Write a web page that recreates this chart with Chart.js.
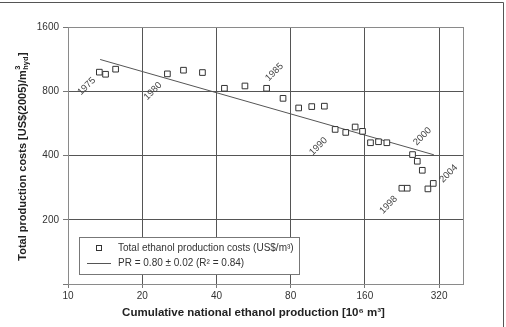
<!DOCTYPE html>
<html>
<head>
<meta charset="utf-8">
<script src="https://cdn.jsdelivr.net/npm/chart.js@4"></script>
<style>
    html, body { margin: 0; padding: 0; background: #fff; }
    #wrap { width: 506px; height: 327px; position: relative; }
</style>
</head>
<body>
<div id="wrap"><canvas id="learningChart" width="506" height="327"></canvas></div>
<script>
// cumulative production (10^6 m3) and cost (US$/m3)
const cumulativeProduction = [13.4, 14.2, 15.6, 25.3, 29.4, 35.1, 43.1, 52.2, 63.9, 74.5,
    86.2, 97.4, 109.6, 121.2, 133.8, 146.1, 156.5, 168.6, 181.7, 196.4,
    226, 237.6, 249.7, 261, 273.5, 288.2, 303];
const productionCost = [983, 961, 1015, 965, 1004, 979, 826, 847, 826, 741,
    668, 678, 681, 530, 513, 544, 519, 459, 464, 459,
    281, 281, 404, 376, 341, 279, 296];

// fitted experience curve end points
const fitX = [13.5, 304.7];
const fitY = [1127, 403];

const xTickValues = [10, 20, 40, 80, 160, 320];
const yTickValues = [100, 200, 400, 800, 1600];

// year annotations
const yearLabels = ['1975', '1980', '1985', '1990', '2000', '1998', '2004'];
const yearLabelX = [11.9, 22.1, 68.7, 103.7, 274, 199.5, 350];
const yearLabelY = [844, 800, 983, 441, 491, 235, 329];

const seriesLabel = 'Total ethanol production costs (US$/m³)';
const fitLabel = 'PR = 0.80 ± 0.02 (R² = 0.84)';

document.addEventListener('DOMContentLoaded', function () {
    const ctx = document.getElementById('learningChart').getContext('2d');
    const fontFamily = '"Liberation Sans", Arial, sans-serif';

    const framePlugin = {
        id: 'frame',
        beforeDraw(chart) {
            const c = chart.ctx;
            c.save();
            c.strokeStyle = '#555';
            c.lineWidth = 1;
            c.beginPath();
            c.moveTo(0, 2.5);
            c.lineTo(503.5, 2.5);
            c.lineTo(503.5, chart.height);
            c.stroke();
            c.restore();
        },
        afterDatasetsDraw(chart) {
            const c = chart.ctx;
            const a = chart.chartArea;
            const xs = chart.scales.x;
            const ys = chart.scales.y;
            c.save();
            // plot frame
            c.strokeStyle = '#8a8a8a';
            c.lineWidth = 1;
            c.strokeRect(Math.round(a.left) + 0.5, Math.round(a.top) + 0.5,
                Math.round(a.right - a.left), Math.round(a.bottom - a.top));

            // year labels
            c.fillStyle = '#444';
            c.font = '9.5px ' + fontFamily;
            c.textAlign = 'center';
            c.textBaseline = 'middle';
            yearLabels.forEach((txt, i) => {
                c.save();
                c.translate(xs.getPixelForValue(yearLabelX[i]), ys.getPixelForValue(yearLabelY[i]));
                c.rotate(-Math.PI / 4);
                c.fillText(txt, 0, 0);
                c.restore();
            });

            // legend box
            const lx = a.left + 11;
            const ly = a.bottom - 47;
            c.fillStyle = '#fff';
            c.fillRect(lx, ly, 220, 37);
            c.strokeStyle = '#777';
            c.strokeRect(Math.round(lx) + 0.5, Math.round(ly) + 0.5, 220, 37);

            c.strokeStyle = '#333';
            c.strokeRect(Math.round(lx + 17) + 0.5, Math.round(ly + 8) + 0.5, 5, 5);
            c.strokeStyle = '#555';
            c.beginPath();
            c.moveTo(lx + 8, Math.round(ly + 26) + 0.5);
            c.lineTo(lx + 32, Math.round(ly + 26) + 0.5);
            c.stroke();

            c.fillStyle = '#333';
            c.font = '10px ' + fontFamily;
            c.textAlign = 'left';
            c.fillText(seriesLabel, lx + 39, ly + 11);
            c.fillText(fitLabel, lx + 39, ly + 26);

            // axis titles
            c.fillStyle = '#222';
            c.font = 'bold 11.5px ' + fontFamily;
            c.textAlign = 'center';
            c.fillText('Cumulative national ethanol production [10⁶ m³]', (a.left + a.right) / 2 - 12, 313);

            c.save();
            c.translate(23, (a.top + a.bottom) / 2 + 1);
            c.rotate(-Math.PI / 2);
            const main = 'Total production costs [US$(2005)/m';
            const bold = 'bold 11px ' + fontFamily;
            const small = 'bold 7.5px ' + fontFamily;
            c.font = bold;
            const wMain = c.measureText(main).width;
            const wEnd = c.measureText(']').width;
            c.font = small;
            const wSub = c.measureText('hyd').width;
            const total = wMain + wSub + wEnd + 1;
            let x0 = -total / 2;
            c.textAlign = 'left';
            c.font = bold;
            c.fillText(main, x0, 0);
            x0 += wMain;
            c.font = small;
            c.fillText('3', x0 + 0.5, -5);
            c.fillText('hyd', x0 + 0.5, 3);
            x0 += wSub + 1;
            c.font = bold;
            c.fillText(']', x0, 0);
            c.restore();

            c.restore();
        }
    };

    new Chart(ctx, {
        type: 'scatter',
        data: {
            datasets: [{
                label: seriesLabel,
                data: cumulativeProduction.map((x, i) => ({ x: x, y: productionCost[i] })),
                pointStyle: 'rect',
                pointRadius: 4,
                pointBorderWidth: 1,
                pointBorderColor: '#333',
                pointBackgroundColor: '#fff'
            }, {
                label: fitLabel,
                type: 'line',
                data: fitX.map((x, i) => ({ x: x, y: fitY[i] })),
                borderColor: '#555',
                borderWidth: 1,
                pointRadius: 0,
                fill: false
            }]
        },
        options: {
            responsive: false,
            animation: false,
            events: [],
            layout: { padding: { left: 0, right: 43, top: 27, bottom: 0 } },
            plugins: {
                legend: { display: false },
                tooltip: { enabled: false }
            },
            scales: {
                x: {
                    type: 'logarithmic',
                    min: 10,
                    max: 400,
                    afterBuildTicks: (scale) => {
                        scale.ticks = xTickValues.map(v => ({ value: v }));
                    },
                    afterFit: (scale) => { scale.height = 43; },
                    grid: { color: '#555', tickColor: '#777', tickLength: 4, lineWidth: 1 },
                    border: { display: false },
                    ticks: {
                        autoSkip: false,
                        maxRotation: 0,
                        padding: 2,
                        color: '#333',
                        font: { family: fontFamily, size: 10 },
                        callback: (v) => String(v)
                    }
                },
                y: {
                    type: 'logarithmic',
                    min: 100,
                    max: 1600,
                    afterBuildTicks: (scale) => {
                        scale.ticks = yTickValues.map(v => ({ value: v }));
                    },
                    afterFit: (scale) => { scale.width = 68; },
                    grid: { color: '#555', tickColor: '#777', tickLength: 5, lineWidth: 1 },
                    border: { display: false },
                    ticks: {
                        autoSkip: false,
                        padding: 4,
                        color: '#333',
                        font: { family: fontFamily, size: 10 },
                        callback: (v) => (v === 100 ? '' : String(v))
                    }
                }
            }
        },
        plugins: [framePlugin]
    });
});
</script>
</body>
</html>
